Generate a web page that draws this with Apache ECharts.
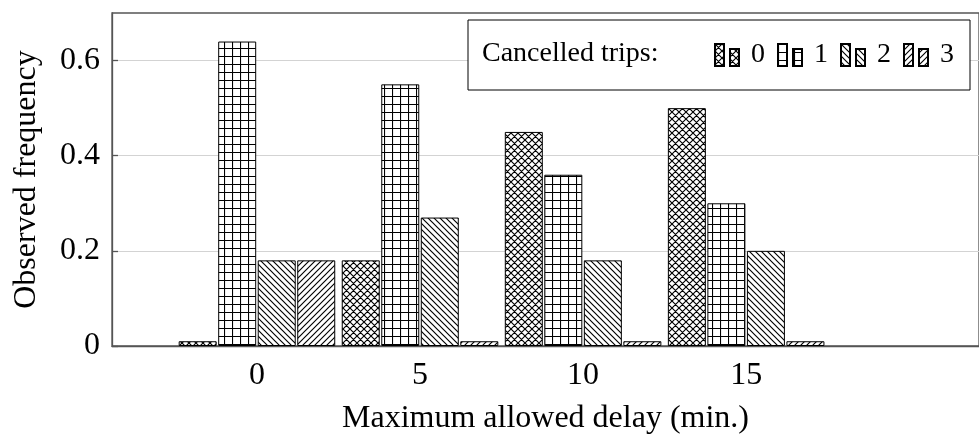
<!DOCTYPE html>
<html>
<head>
<meta charset="utf-8">
<script src="https://cdn.jsdelivr.net/npm/echarts@6/dist/echarts.min.js"></script>
<style>
html,body{margin:0;padding:0;background:#fff;}
#chart{width:979px;height:440px;}
</style>
</head>
<body>
<div id="chart"></div>
<script>
// ---- data ----
const categories = [0, 5, 10, 15];
const seriesNames = ['0', '1', '2', '3'];
const trips0 = [0.01, 0.18, 0.45, 0.50];
const trips1 = [0.64, 0.55, 0.36, 0.30];
const trips2 = [0.18, 0.27, 0.18, 0.20];
const trips3 = [0.18, 0.01, 0.01, 0.01];
const yTicks = [0, 0.2, 0.4, 0.6];
const legendTitle = 'Cancelled trips:';
const xTitle = 'Maximum allowed delay (min.)';
const yTitle = 'Observed frequency';

const seriesValues = [trips0, trips1, trips2, trips3];
const patternTypes = ['cross', 'grid', 'nw', 'ne'];

function makePattern(type) {
  const s = type === 'grid' ? 8 : (type === 'cross' ? 7 : 6);
  const c = document.createElement('canvas');
  c.width = s; c.height = s;
  const ctx = c.getContext('2d');
  ctx.fillStyle = '#fff';
  ctx.fillRect(0, 0, s, s);
  ctx.strokeStyle = '#000';
  ctx.lineWidth = 1.15;
  ctx.beginPath();
  if (type === 'grid') {
    ctx.moveTo(0, 0.5); ctx.lineTo(s, 0.5);
    ctx.moveTo(0.5, 0); ctx.lineTo(0.5, s);
  }
  if (type === 'ne' || type === 'cross') {
    ctx.moveTo(-1, s + 1); ctx.lineTo(s + 1, -1);
    ctx.moveTo(-1, 1); ctx.lineTo(1, -1);
    ctx.moveTo(s - 1, s + 1); ctx.lineTo(s + 1, s - 1);
  }
  if (type === 'nw' || type === 'cross') {
    ctx.moveTo(-1, -1); ctx.lineTo(s + 1, s + 1);
    ctx.moveTo(s - 1, -1); ctx.lineTo(s + 1, 1);
    ctx.moveTo(-1, s - 1); ctx.lineTo(1, s + 1);
  }
  ctx.stroke();
  return { image: c, repeat: 'repeat' };
}

const FONT = 'Liberation Serif';
const chart = echarts.init(document.getElementById('chart'), null, { renderer: 'canvas' });

const series = seriesNames.map((name, i) => ({
  name: name,
  type: 'bar',
  barWidth: 38,
  barGap: '4%',
  data: categories.map((c, j) => [c, seriesValues[i][j]]),
  itemStyle: {
    color: makePattern(patternTypes[i]),
    borderColor: '#000',
    borderWidth: 1
  }
}));

chart.setOption({
  animation: false,
  textStyle: { fontFamily: FONT, color: '#000' },
  grid: {
    left: 112, top: 13, right: -12, bottom: 93,
    show: true, borderColor: '#555', borderWidth: 1.3,
    backgroundColor: 'transparent'
  },
  xAxis: {
    type: 'value',
    min: -4.445,
    max: 22.14,
    axisLine: { show: true, onZero: false, lineStyle: { color: '#555', width: 1.3 } },
    axisTick: { show: false },
    splitLine: { show: false },
    axisLabel: {
      customValues: categories,
      fontSize: 32, margin: 14, color: '#000', fontFamily: FONT,
      formatter: v => String(v)
    },
    name: xTitle,
    nameLocation: 'middle',
    nameGap: 57,
    nameTextStyle: { fontSize: 32, color: '#000', fontFamily: FONT }
  },
  yAxis: {
    type: 'value',
    min: 0,
    max: 0.7,
    interval: 0.2,
    axisLine: { show: true, onZero: false, lineStyle: { color: '#555', width: 1.3 } },
    axisTick: { show: true, inside: true, length: 6, customValues: yTicks, lineStyle: { color: '#555', width: 1.3 } },
    splitLine: { show: true, lineStyle: { color: '#d3d3d3', width: 1 } },
    axisLabel: {
      customValues: yTicks,
      fontSize: 32, margin: 12, color: '#000', fontFamily: FONT,
      formatter: v => (v === 0 ? '0' : v.toFixed(1))
    },
    name: yTitle,
    nameLocation: 'middle',
    nameGap: 69,
    nameTextStyle: { fontSize: 32, color: '#000', fontFamily: FONT }
  },
  legend: {
    data: seriesNames,
    left: 468,
    top: 20,
    orient: 'horizontal',
    padding: [20, 16, 20, 246],
    itemGap: 12,
    itemWidth: 24,
    itemHeight: 22,
    icon: 'path://M0,0 h9 v22 h-9 z M15,5 h9 v17 h-9 z',
    borderColor: '#000',
    borderWidth: 1,
    backgroundColor: '#fff',
    selectedMode: false,
    formatter: ' {name}',
    textStyle: { fontSize: 28, lineHeight: 30, color: '#000', fontFamily: FONT }
  },
  graphic: [{
    type: 'text',
    left: 482,
    top: 40,
    z: 100,
    zlevel: 0,
    style: {
      text: legendTitle,
      fontSize: 28,
      fontFamily: FONT,
      fill: '#000'
    }
  }],
  series: series
});
</script>
</body>
</html>
